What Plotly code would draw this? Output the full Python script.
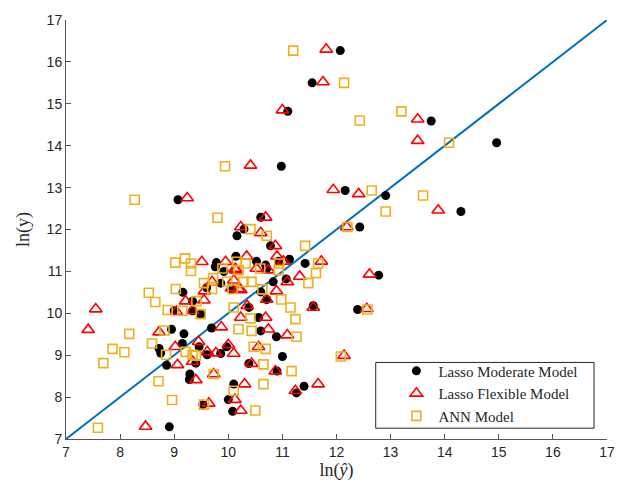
import plotly.graph_objects as go

lm_x = [12.07, 11.55, 11.1, 13.75, 14.96, 10.98, 9.07, 12.16, 12.91, 14.3, 12.43, 12.78, 12.39,
        10.6, 10.29, 10.16, 10.78,
        9.78, 9.76, 9.92, 10.14, 10.52, 10.69, 10.93, 11.13, 11.42,
        9.86, 10.06, 9.6, 10.71, 10.83, 11.07, 10.6, 10.71, 10.38, 11.57,
        9.16, 9.34, 9.0, 9.34, 9.49,
        8.95, 9.18, 9.69, 10.56, 10.6, 10.89,
        9.15, 9.46, 8.72, 8.75, 9.61, 9.86, 9.97,
        11.0, 8.86, 9.4, 10.38, 10.9, 9.29, 9.28,
        10.1, 11.4, 11.26, 10.0, 9.53, 10.08, 8.91]
lm_y = [16.27, 15.5, 14.82, 14.59, 14.07, 13.51, 12.71, 12.93, 12.81, 12.43, 12.06, 10.91, 10.09,
        12.29, 12.01, 11.85, 11.61,
        11.21, 11.11, 11.0, 11.36, 11.24, 11.15, 11.24, 11.29, 11.19,
        10.72, 10.56, 10.61, 11.07, 10.75, 10.82, 10.51, 10.33, 10.14, 10.18,
        10.5, 10.29, 10.06, 10.06, 9.98,
        9.62, 9.51, 9.65, 9.9, 9.58, 9.44,
        9.28, 9.2, 9.16, 9.05, 9.01, 9.04, 9.2,
        8.97, 8.76, 8.81, 8.8, 8.62, 8.55, 8.42,
        8.31, 8.26, 8.1, 7.94, 7.82, 7.66, 7.29]

lf_x = [11.81, 11.75, 11.0, 13.5, 13.5, 10.41, 9.24, 11.94, 12.41, 13.88, 12.19, 12.61, 12.56, 12.14,
        10.69, 10.23, 10.6, 10.87,
        9.51, 9.95, 10.13, 10.34, 10.9, 11.02, 11.72, 10.52, 10.74, 10.14,
        11.32, 11.09, 9.7, 10.1, 10.19, 9.56, 10.23, 10.06, 10.89, 10.71,
        9.21, 9.55, 9.04, 9.34, 10.35, 11.57, 7.55,
        10.23, 10.69, 9.87, 10.74, 11.09, 8.72, 7.41,
        9.45, 9.02, 10.0, 10.56, 9.61, 9.77, 10.1,
        9.06, 9.34, 10.43, 10.87, 9.73, 9.4,
        10.3, 11.66, 11.24, 10.12, 9.64, 10.23, 8.47]
lf_y = [16.3, 15.52, 14.85, 14.63, 14.12, 13.53, 12.75, 12.95, 12.85, 12.46, 12.06, 10.93, 10.11, 8.99,
        12.29, 12.06, 11.92, 11.61,
        11.23, 11.23, 11.07, 11.36, 11.36, 11.24, 11.24, 11.07, 11.03, 11.03,
        10.88, 10.75, 10.75, 10.79, 10.58, 10.53, 10.56, 10.6, 10.53, 10.33,
        10.29, 10.31, 10.04, 10.06, 10.18, 10.14, 10.1,
        9.9, 9.9, 9.67, 9.62, 9.48, 9.55, 9.61,
        9.32, 9.2, 9.25, 9.2, 9.08, 9.05, 9.04,
        8.77, 8.85, 8.8, 8.62, 8.55, 8.41,
        8.31, 8.31, 8.15, 7.94, 7.85, 7.68, 7.3]

ann_x = [11.2, 12.14, 12.43, 13.2, 14.08, 9.94, 8.27, 12.65, 13.6, 12.91, 12.2, 12.57, 12.08,
         9.8, 10.41, 10.71, 11.42,
         9.02, 9.2, 9.31, 9.31, 9.89, 10.16, 10.32, 10.59, 10.93, 10.94, 11.66, 10.19,
         9.72, 9.55, 9.7, 9.98, 10.08, 10.28, 10.43, 11.48, 11.62, 10.63,
         8.53, 8.65, 9.03, 9.41, 8.88, 9.15, 9.49, 10.1, 10.98, 11.15,
         10.41, 11.24, 10.19, 10.43, 8.82, 8.17, 11.26,
         8.59, 9.21, 9.34, 9.4, 8.85, 10.47, 10.69, 7.86, 8.08,
         7.69, 10.65, 9.73, 11.17, 8.71, 10.65, 10.1, 8.96, 9.55, 10.5, 7.59]
ann_y = [16.27, 15.5, 14.6, 14.82, 14.07, 13.51, 12.71, 12.93, 12.81, 12.43, 12.06, 10.09, 8.97,
         12.28, 12.01, 11.85, 11.61,
         11.21, 11.31, 11.19, 11.01, 11.07, 11.23, 11.19, 11.07, 11.03, 11.19, 11.19, 11.03,
         10.84, 10.72, 10.58, 10.76, 10.58, 10.75, 10.75, 10.72, 10.96, 10.57,
         10.49, 10.27, 10.58, 10.29, 10.08, 10.06, 9.98, 10.14, 10.33, 10.14,
         9.88, 9.86, 9.62, 9.58, 9.59, 9.51, 9.44,
         9.28, 9.08, 9.01, 8.99, 9.01, 9.2, 9.15, 9.15, 9.07,
         8.81, 8.78, 8.55, 8.62, 8.38, 8.31, 8.15, 7.93, 7.82, 7.68, 7.27]

line_x = [7, 17]
line_y = [7, 17]

fig = go.Figure()
fig.add_trace(go.Scatter(x=line_x, y=line_y, mode="lines", showlegend=False,
                         line=dict(color="#0072BD", width=2), hoverinfo="skip"))
fig.add_trace(go.Scatter(x=lm_x, y=lm_y, mode="markers", name="Lasso Moderate Model",
                         marker=dict(symbol="circle", size=9, color="black",
                                     line=dict(width=0))))
fig.add_trace(go.Scatter(x=lf_x, y=lf_y, mode="markers", name="Lasso Flexible Model",
                         marker=dict(symbol="triangle-up-open", size=11, color="#FF0000",
                                     line=dict(width=1.6, color="#FF0000"))))
fig.add_trace(go.Scatter(x=ann_x, y=ann_y, mode="markers", name="ANN Model",
                         marker=dict(symbol="square-open", size=9, color="#EDB120",
                                     line=dict(width=1.6, color="#EDB120"))))

axis_common = dict(range=[7, 17], dtick=1, tick0=7, showgrid=False, zeroline=False,
                   showline=True, linecolor="#555555", linewidth=1, mirror=False,
                   ticks="inside", ticklen=5, tickcolor="#555555",
                   tickfont=dict(family="Liberation Sans, Arial", size=14, color="#262626"))

# legend frame (paper coordinates)
box_x0, box_x1 = 0.5725, 0.976
box_y0, box_y1 = 0.0258, 0.1827

fig.update_layout(
    width=627, height=491,
    margin=dict(l=66, r=16, t=12, b=52),
    paper_bgcolor="white", plot_bgcolor="white",
    font=dict(family="Liberation Serif, Times New Roman", color="#262626"),
    xaxis=dict(**axis_common,
               title=dict(text="ln(<i>ŷ</i>)", font=dict(family="Liberation Serif", size=18),
                          standoff=4)),
    yaxis=dict(**axis_common,
               title=dict(text="ln(y)", font=dict(family="Liberation Serif", size=18),
                          standoff=12)),
    shapes=[dict(type="rect", xref="paper", yref="paper",
                 x0=box_x0, x1=box_x1, y0=box_y0, y1=box_y1,
                 line=dict(color="#262626", width=1), fillcolor="white", layer="above")],
    legend=dict(x=0.607, y=0.2014, xanchor="left", yanchor="top",
                bgcolor="rgba(0,0,0,0)", borderwidth=0,
                font=dict(family="Liberation Serif", size=15, color="#262626"),
                itemwidth=34, tracegroupgap=0),
)

fig.write_html("out.html")
